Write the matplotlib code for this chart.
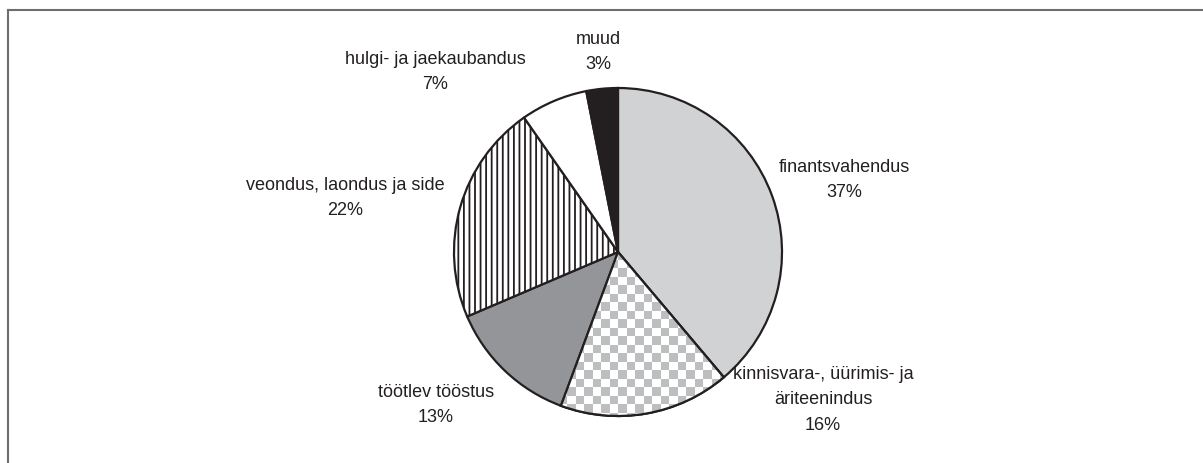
import numpy as np
import matplotlib
matplotlib.use("Agg")
import matplotlib.pyplot as plt
from matplotlib.lines import Line2D

# sector shares and printed labels
sectors = ["finantsvahendus", "kinnisvara-, üürimis- ja\näriteenindus", "töötlev tööstus",
           "veondus, laondus ja side", "hulgi- ja jaekaubandus", "muud"]
shares = [38.8, 16.8, 12.9, 21.7, 6.6, 3.1]
pct_labels = ["37%", "16%", "13%", "22%", "7%", "3%"]

colors = ["#d1d2d4", "white", "#939598", "white", "white", "#231f20"]
hatches = [None, None, None, "|||", None, None]
# label centres in pixels (x, y from top)
label_pos = [(844, 180), (823, 400), (436, 405), (345, 198), (435, 72), (598, 52)]

W, H = 1203, 463
plt.rcParams['font.family'] = ['Liberation Sans', 'DejaVu Sans']
plt.rcParams['hatch.linewidth'] = 1.3

fig = plt.figure(figsize=(W / 100, H / 100), dpi=100)
ax = fig.add_axes([0, 0, 1, 1])

wedges, _ = ax.pie(shares, colors=colors, startangle=90, counterclock=False,
                   center=(618, H - 252), radius=164, frame=True,
                   wedgeprops=dict(edgecolor="#231f20", linewidth=1.6))
for w, h in zip(wedges, hatches):
    if h:
        w.set_hatch(h)

# checkerboard fill for kinnisvara
sq = 8.5
n = 46
ii, jj = np.indices((n, n))
board = np.where((ii + jj) % 2 == 0, 1.0, 0.0)
cmap = matplotlib.colors.ListedColormap(["white", "#bcbec0"])
cx, cy = 618, H - 252
im = ax.imshow(board, cmap=cmap, extent=(cx - n * sq / 2, cx + n * sq / 2, cy - n * sq / 2, cy + n * sq / 2),
               interpolation="nearest", zorder=wedges[1].get_zorder() + 0.1)
im.set_clip_path(wedges[1])
# redraw outline of that wedge on top
edge = matplotlib.patches.Wedge(wedges[1].center, wedges[1].r, wedges[1].theta1, wedges[1].theta2,
                                facecolor="none", edgecolor="#231f20", linewidth=1.6,
                                zorder=im.get_zorder() + 0.1)
ax.add_patch(edge)

for name, pct, (x, y) in zip(sectors, pct_labels, label_pos):
    ax.text(x, H - y, name + "\n" + pct, ha="center", va="center", fontsize=13,
            color="#231f20", linespacing=1.65)

ax.set_xlim(0, W)
ax.set_ylim(0, H)
ax.set_aspect("equal")
ax.axis("off")

# frame: only left and top edges show
fig.add_artist(Line2D([8 / W, 8 / W], [0, 1 - 10 / H], transform=fig.transFigure, color="#6d6e71", lw=1.5))
fig.add_artist(Line2D([8 / W, 1], [1 - 10 / H, 1 - 10 / H], transform=fig.transFigure, color="#6d6e71", lw=1.5))

fig.savefig("out.png", dpi=100, facecolor="white")
